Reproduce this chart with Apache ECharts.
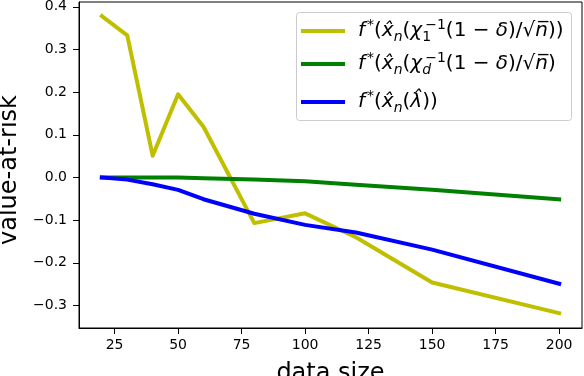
<!DOCTYPE html>
<html>
<head>
<meta charset="utf-8">
<script src="https://cdn.jsdelivr.net/npm/echarts@6/dist/echarts.min.js"></script>
<style>
  html, body { margin: 0; padding: 0; background: #fff; }
  #main { width: 584px; height: 376px; }
</style>
</head>
<body>
<div id="main"></div>
<script>
// data
const dataSize = [20, 30, 40, 50, 60, 80, 100, 120, 150, 200];
const varChi1 = [0.378, 0.333, 0.051, 0.195, 0.119, -0.107, -0.084, -0.140, -0.246, -0.318];
const varChiD = [0.000, 0.000, 0.000, 0.000, -0.002, -0.005, -0.009, -0.017, -0.029, -0.051];
const varLambda = [0.000, -0.005, -0.016, -0.029, -0.051, -0.085, -0.111, -0.129, -0.169, -0.249];
const xTicks = [25, 50, 75, 100, 125, 150, 175, 200];
const yTicks = [-0.3, -0.2, -0.1, 0.0, 0.1, 0.2, 0.3, 0.4];

const font = 'DejaVu Sans';
const pairs = (ys) => dataSize.map((x, i) => [x, ys[i]]);
const minus = (v) => (v < 0 ? '\u2212' : '') + Math.abs(v).toFixed(1);

// legend labels as rich text (mathtext look-alike)
const labels = {
  chi1: '{i|f}{sp|*}{m|(}{i|x\u0302}{sb|n}{m|(}{i|\u03c7}{sbz|1}{sp|\u22121}{m|(1 \u2212 }{i|\u03b4}{m|)/\u221a}{i|n\u0305}{m|))}',
  chid: '{i|f}{sp|*}{m|(}{i|x\u0302}{sb|n}{m|(}{i|\u03c7}{sbzi|d}{sp|\u22121}{m|(1 \u2212 }{i|\u03b4}{m|)/\u221a}{i|n\u0305}{m|)}',
  lam: '{i|f}{sp|*}{m|(}{i|x\u0302}{sb|n}{m|(}{i|\u03bb\u0302}{m|))}'
};
const rich = {
  m: { fontFamily: font, fontSize: 20, lineHeight: 26, color: '#000' },
  i: { fontFamily: font, fontSize: 20, lineHeight: 26, fontStyle: 'italic', color: '#000' },
  sp: { fontFamily: font, fontSize: 14, lineHeight: 14, verticalAlign: 'top', padding: [0, 0, 0, 2], color: '#000' },
  sb: { fontFamily: font, fontSize: 14, lineHeight: 14, verticalAlign: 'bottom', fontStyle: 'italic', color: '#000' },
  sbz: { fontFamily: font, fontSize: 14, lineHeight: 14, verticalAlign: 'bottom', width: 1, color: '#000' },
  sbzi: { fontFamily: font, fontSize: 14, lineHeight: 14, verticalAlign: 'bottom', fontStyle: 'italic', width: 1, color: '#000' }
};
const rowY = [31, 64, 102];
const legendFor = (name, y) => ({
  data: [name],
  left: 301,
  top: y - 13,
  padding: 0,
  icon: 'rect',
  itemWidth: 44,
  itemHeight: 4,
  selectedMode: false,
  formatter: (n) => labels[n],
  textStyle: { padding: [0, 0, 0, 8], rich: rich }
});

let myChart = echarts.init(document.getElementById('main'));
myChart.setOption({
  animation: false,
  backgroundColor: '#fff',
  grid: {
    left: 79, right: 2, top: 2, bottom: 48,
    outerBoundsMode: 'none',
    show: true, borderColor: '#000', borderWidth: 1
  },
  graphic: [{
    type: 'rect',
    shape: { x: 296.5, y: 12.5, width: 275, height: 108, r: 3 },
    style: { fill: 'rgba(255,255,255,0.8)', stroke: '#cccccc', lineWidth: 1 },
    z: 90
  }],
  legend: [legendFor('chi1', rowY[0]), legendFor('chid', rowY[1]), legendFor('lam', rowY[2])].map(l => Object.assign(l, { z: 100 })),
  xAxis: {
    type: 'value',
    min: 11,
    max: 209,
    name: 'data size',
    nameLocation: 'middle',
    nameGap: 34,
    nameTextStyle: { fontFamily: font, fontSize: 24, color: '#000' },
    axisLine: { show: true, onZero: false, lineStyle: { color: '#000', width: 1 } },
    axisTick: { show: true, length: 6, customValues: xTicks, lineStyle: { color: '#000' } },
    axisLabel: { customValues: xTicks, margin: 10, fontFamily: font, fontSize: 14, color: '#000' },
    splitLine: { show: false }
  },
  yAxis: {
    type: 'value',
    min: -0.3527,
    max: 0.4112,
    name: 'value-at-risk',
    nameLocation: 'middle',
    nameGap: 55,
    nameTextStyle: { fontFamily: font, fontSize: 24, color: '#000', padding: [0, 10, 0, 0] },
    axisLine: { show: true, onZero: false, lineStyle: { color: '#000', width: 1 } },
    axisTick: { show: true, length: 6, customValues: yTicks, lineStyle: { color: '#000' } },
    axisLabel: { customValues: yTicks, margin: 12, fontFamily: font, fontSize: 14, color: '#000', formatter: minus },
    splitLine: { show: false }
  },
  series: [
    { name: 'chi1', type: 'line', data: pairs(varChi1), color: '#bfbf00' },
    { name: 'chid', type: 'line', data: pairs(varChiD), color: '#008000' },
    { name: 'lam', type: 'line', data: pairs(varLambda), color: '#0000ff' }
  ].map(s => Object.assign(s, {
    showSymbol: false,
    symbol: 'none',
    lineStyle: { width: 4, cap: 'square', join: 'round' }
  }))
});
</script>
</body>
</html>
